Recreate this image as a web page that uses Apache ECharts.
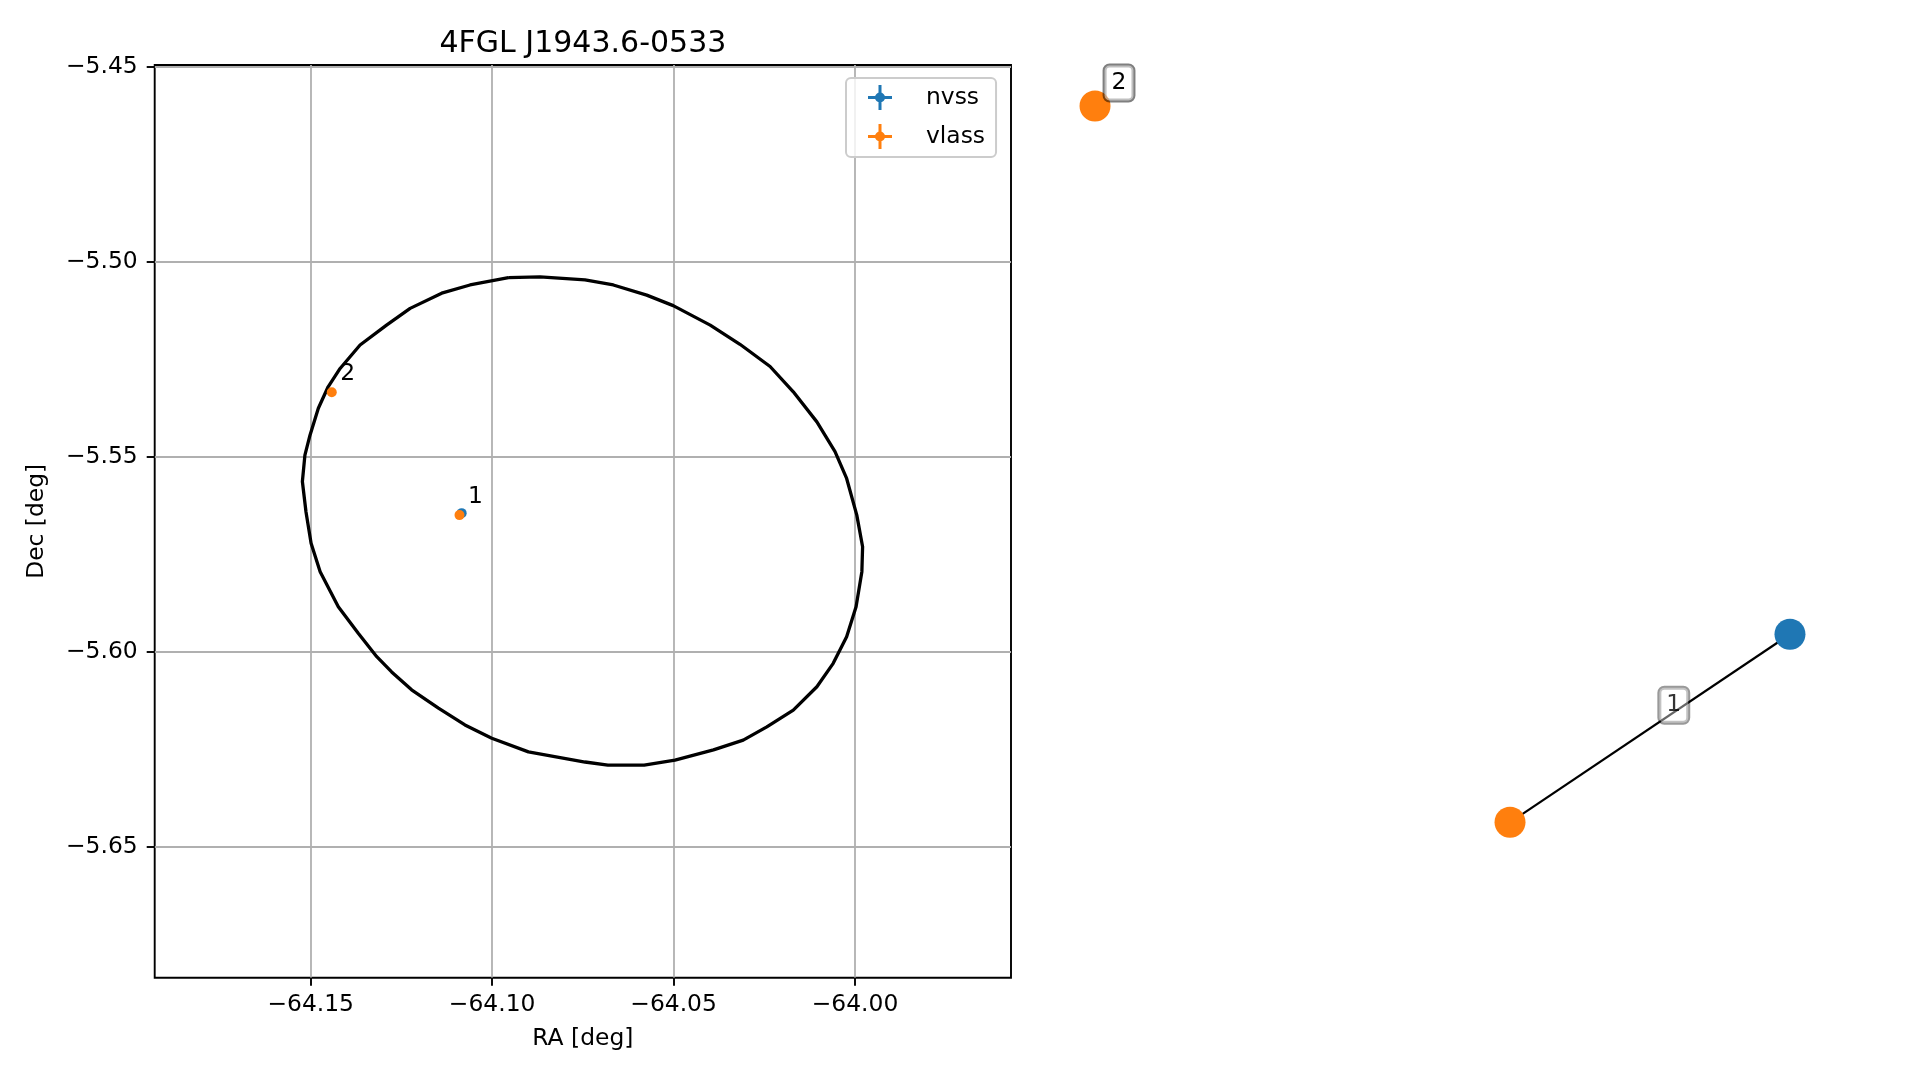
<!DOCTYPE html>
<html>
<head>
<meta charset="utf-8">
<script src="https://cdn.jsdelivr.net/npm/echarts@6/dist/echarts.min.js"></script>
<style>html,body{margin:0;padding:0;background:#fff}#chart{width:1919px;height:1080px}</style>
</head>
<body>
<div id="chart"></div>
<script>
// ---------------- data ----------------
const chartTitle = '4FGL J1943.6-0533';
const xName = 'RA [deg]';
const yName = 'Dec [deg]';
const xTicks = [-64.15, -64.10, -64.05, -64.00];
const yTicks = [-5.65, -5.60, -5.55, -5.50, -5.45];
const xRange = [-64.193, -63.957];
const yRange = [-5.6835, -5.4495];

// 95% error ellipse polygon
const ellipseRA = [-64.0955, -64.0868, -64.0744, -64.0666, -64.0574, -64.0501, -64.0399, -64.0317, -64.0234, -64.0170,
  -64.0105, -64.0055, -64.0023, -63.9995, -63.9979, -63.9981, -63.9997, -64.0023, -64.0060, -64.0105,
  -64.0170, -64.0243, -64.0308, -64.0390, -64.0496, -64.0581, -64.0681, -64.0744, -64.0900, -64.1001,
  -64.1075, -64.1148, -64.1222, -64.1277, -64.1318, -64.1369, -64.1424, -64.1474, -64.1499, -64.1513,
  -64.1523, -64.1516, -64.1502, -64.1479, -64.1452, -64.1419, -64.1364, -64.1291, -64.1226, -64.1139,
  -64.1061, -64.0955];
const ellipseDec = [-5.5040, -5.5038, -5.5046, -5.5059, -5.5085, -5.5112, -5.5162, -5.5211, -5.5268, -5.5333,
  -5.5410, -5.5486, -5.5555, -5.5649, -5.5730, -5.5794, -5.5884, -5.5961, -5.6029, -5.6089,
  -5.6149, -5.6192, -5.6226, -5.6251, -5.6277, -5.6290, -5.6290, -5.6282, -5.6256, -5.6221,
  -5.6187, -5.6144, -5.6097, -5.6051, -5.6012, -5.5952, -5.5884, -5.5794, -5.5721, -5.5641,
  -5.5563, -5.5495, -5.5444, -5.5375, -5.5320, -5.5273, -5.5213, -5.5162, -5.5119, -5.5080,
  -5.5059, -5.5040];

const nvssRA = [-64.1084];
const nvssDec = [-5.5644];
const nvssLabels = [''];
const vlassRA = [-64.1090, -64.1442];
const vlassDec = [-5.5649, -5.5334];
const vlassLabels = ['1', '2'];

// match graph (layout positions)
const nodeSurvey = ['nvss', 'vlass', 'vlass'];
const nodeX = [0.9146, 0.5732, 0.0671];
const nodeY = [0.3758, 0.1696, 0.9550];
const nodeLabels = ['', '', '2'];
const edgeFrom = [0];
const edgeTo = [1];
const edgeLabels = ['1'];
const edgeLabelPos = [0.585];

// ---------------- styling ----------------
const FONT = 'DejaVu Sans';
const FS = 23.4;
const surveyColor = { nvss: '#1f77b4', vlass: '#ff7f0e' };
const fmt = v => (v < 0 ? '\u2212' : '') + Math.abs(v).toFixed(2);
const boxLabel = {
  color: '#000', fontFamily: FONT, fontSize: FS, lineHeight: 23,
  backgroundColor: 'rgba(255,255,255,0.5)', borderColor: 'rgba(0,0,0,0.5)',
  borderWidth: 2, borderRadius: 5, padding: [6, 7]
};
const errIcon = 'path://M0,11h24v3h-24z M10.5,0h3v25h-3z M7,12.5a5,5 0 1,1 10,0a5,5 0 1,1 -10,0z';

const edgeSeg = [];
edgeFrom.forEach((a, i) => {
  const b = edgeTo[i];
  edgeSeg.push([nodeX[a], nodeY[a]], [nodeX[b], nodeY[b]]);
  if (i < edgeFrom.length - 1) edgeSeg.push('-');
});
const edgeLabelData = edgeFrom.map((a, i) => {
  const b = edgeTo[i], t = edgeLabelPos[i];
  return [nodeX[b] + (nodeX[a] - nodeX[b]) * t, nodeY[b] + (nodeY[a] - nodeY[b]) * t];
});
const pointLabel = (labels) => ({
  show: true, position: 'inside', offset: [16, -18],
  formatter: p => labels[p.dataIndex], color: '#000', fontFamily: FONT, fontSize: FS
});

const chart = echarts.init(document.getElementById('chart'), null, { renderer: 'canvas' });
chart.setOption({
  animation: false,
  backgroundColor: '#fff',
  textStyle: { fontFamily: FONT },
  title: {
    text: chartTitle, left: 434.5, top: 24,
    textStyle: { fontFamily: FONT, fontSize: 30, fontWeight: 'normal', color: '#000' }
  },
  legend: {
    data: [
      { name: 'nvss', icon: errIcon, itemStyle: { color: surveyColor.nvss } },
      { name: 'vlass', icon: errIcon, itemStyle: { color: surveyColor.vlass } }
    ],
    orient: 'vertical', left: 846, top: 78,
    itemWidth: 24, itemHeight: 25, itemGap: 14,
    padding: [7, 11, 8, 22],
    backgroundColor: 'rgba(255,255,255,0.8)', borderColor: '#cccccc', borderWidth: 2, borderRadius: 5,
    textStyle: { fontFamily: FONT, fontSize: FS, color: '#000', padding: [0, 0, 0, 29] }
  },
  grid: [
    { left: 154.7, top: 65, width: 856.3, height: 912.7, show: true, borderColor: '#000', borderWidth: 1.9, backgroundColor: 'transparent' },
    { left: 1040, top: 65, width: 820, height: 912 }
  ],
  xAxis: [
    {
      type: 'value', gridIndex: 0, min: xRange[0], max: xRange[1],
      name: xName, nameLocation: 'middle', nameGap: 50,
      nameTextStyle: { fontFamily: FONT, fontSize: FS, color: '#000' },
      axisLine: { show: false },
      axisTick: { show: true, length: 8, customValues: xTicks, lineStyle: { color: '#000', width: 1.9 } },
      axisLabel: { customValues: xTicks, formatter: fmt, margin: 16, fontFamily: FONT, fontSize: FS, color: '#000' },
      splitLine: { show: true, lineStyle: { color: '#b0b0b0', width: 1.8 } }
    },
    { type: 'value', gridIndex: 1, min: 0, max: 1, show: false }
  ],
  yAxis: [
    {
      type: 'value', gridIndex: 0, min: yRange[0], max: yRange[1],
      name: yName, nameLocation: 'middle', nameGap: 106, nameRotate: 90,
      nameTextStyle: { fontFamily: FONT, fontSize: FS, color: '#000' },
      axisLine: { show: false },
      axisTick: { show: true, length: 8, customValues: yTicks, lineStyle: { color: '#000', width: 1.9 } },
      axisLabel: { customValues: yTicks, formatter: fmt, margin: 17, fontFamily: FONT, fontSize: FS, color: '#000' },
      splitLine: { show: true, lineStyle: { color: '#b0b0b0', width: 1.8 } }
    },
    { type: 'value', gridIndex: 1, min: 0, max: 1, show: false }
  ],
  series: [
    {
      name: 'ellipse', type: 'line', xAxisIndex: 0, yAxisIndex: 0,
      data: ellipseRA.map((x, i) => [x, ellipseDec[i]]),
      showSymbol: false, symbol: 'none', silent: true,
      lineStyle: { color: '#000', width: 3.3 }, z: 2
    },
    {
      name: 'nvss', type: 'scatter', xAxisIndex: 0, yAxisIndex: 0,
      data: nvssRA.map((x, i) => [x, nvssDec[i]]),
      symbolSize: 10, itemStyle: { color: surveyColor.nvss, opacity: 1 }, z: 3,
      label: pointLabel(nvssLabels)
    },
    {
      name: 'vlass', type: 'scatter', xAxisIndex: 0, yAxisIndex: 0,
      data: vlassRA.map((x, i) => [x, vlassDec[i]]),
      symbolSize: 10, itemStyle: { color: surveyColor.vlass, opacity: 1 }, z: 4,
      label: pointLabel(vlassLabels)
    },
    {
      name: 'edges', type: 'line', xAxisIndex: 1, yAxisIndex: 1,
      data: edgeSeg, showSymbol: false, symbol: 'none', silent: true, connectNulls: false,
      lineStyle: { color: '#000', width: 2.2 }, z: 2
    },
    {
      name: 'nodes', type: 'scatter', xAxisIndex: 1, yAxisIndex: 1,
      data: nodeX.map((x, i) => ({
        value: [x, nodeY[i]],
        itemStyle: { color: surveyColor[nodeSurvey[i]] },
        label: { show: nodeLabels[i] !== '' }
      })),
      symbolSize: 31,
      itemStyle: { opacity: 1 },
      label: Object.assign({ position: 'inside', offset: [24, -23], formatter: p => nodeLabels[p.dataIndex] }, boxLabel),
      z: 5
    },
    {
      name: 'edgeLabels', type: 'scatter', xAxisIndex: 1, yAxisIndex: 1,
      data: edgeLabelData, symbolSize: 2, itemStyle: { color: 'rgba(0,0,0,0)' },
      label: Object.assign({ show: true, position: 'inside', offset: [0, -7], formatter: p => edgeLabels[p.dataIndex] }, boxLabel),
      z: 6
    }
  ]
});
</script>
</body>
</html>
